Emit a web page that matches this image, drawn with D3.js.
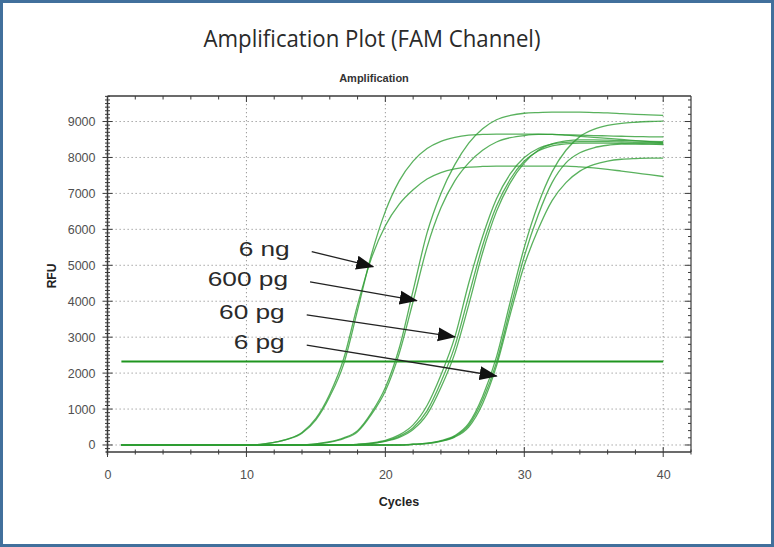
<!DOCTYPE html>
<html>
<head>
<meta charset="utf-8">
<script src="https://cdn.jsdelivr.net/npm/d3@7"></script>
<style>
  body { margin: 0; background: #fff; }
  svg { display: block; }
</style>
</head>
<body>
<div id="chart"></div>
<script>
// cycle numbers shared by every trace
const cycles = [1, 2, 3, 4, 5, 6, 7, 8, 9, 10, 11, 12, 13, 14, 15, 16, 17, 18, 19, 20,
  21, 22, 23, 24, 25, 26, 27, 28, 29, 30, 31, 32, 33, 34, 35, 36, 37, 38, 39, 40];

// RFU, one array per well
const ng6A = [0, 0, 0, 0, 0, 0, 0, 0, 0, 0, 20, 70, 160, 330, 700, 1350, 2250, 3750, 5300, 6500,
  7350, 7900, 8250, 8450, 8560, 8620, 8640, 8650, 8650, 8650, 8650, 8640, 8630, 8620, 8610, 8600, 8590, 8580, 8575, 8570];
const ng6B = [0, 0, 0, 0, 0, 0, 0, 0, 0, 0, 20, 75, 170, 350, 740, 1420, 2400, 3900, 5200, 6100,
  6700, 7100, 7400, 7580, 7680, 7730, 7750, 7760, 7760, 7760, 7760, 7760, 7760, 7740, 7710, 7670, 7620, 7570, 7520, 7470];
const pg600C = [0, 0, 0, 0, 0, 0, 0, 0, 0, 0, 0, 0, 0, 0, 30, 90, 200, 400, 900, 1600,
  2700, 4300, 5900, 7000, 7800, 8400, 8800, 9050, 9170, 9230, 9250, 9260, 9260, 9260, 9250, 9240, 9220, 9200, 9185, 9170];
const pg600D = [0, 0, 0, 0, 0, 0, 0, 0, 0, 0, 0, 0, 0, 0, 30, 80, 180, 370, 850, 1500,
  2550, 4000, 5500, 6600, 7350, 7850, 8200, 8430, 8550, 8610, 8640, 8640, 8620, 8590, 8560, 8530, 8500, 8470, 8440, 8410];
const pg60H = [0, 0, 0, 0, 0, 0, 0, 0, 0, 0, 0, 0, 0, 0, 0, 0, 0, 20, 60, 130,
  280, 560, 1100, 1950, 3000, 4500, 5800, 6850, 7550, 8000, 8250, 8370, 8420, 8440, 8440, 8440, 8430, 8420, 8410, 8400];
const pg60I = [0, 0, 0, 0, 0, 0, 0, 0, 0, 0, 0, 0, 0, 0, 0, 0, 0, 15, 45, 110,
  240, 480, 950, 1750, 2750, 4150, 5550, 6650, 7400, 7900, 8180, 8320, 8380, 8400, 8400, 8400, 8390, 8380, 8370, 8360];
const pg60J = [0, 0, 0, 0, 0, 0, 0, 0, 0, 0, 0, 0, 0, 0, 0, 0, 0, 10, 40, 100,
  210, 430, 850, 1600, 2550, 3900, 5350, 6500, 7300, 7850, 8200, 8380, 8460, 8490, 8490, 8480, 8470, 8460, 8450, 8440];
const pg6E = [0, 0, 0, 0, 0, 0, 0, 0, 0, 0, 0, 0, 0, 0, 0, 0, 0, 0, 0, 0,
  0, 20, 50, 120, 260, 600, 1350, 2450, 4000, 5500, 6700, 7600, 8200, 8580, 8780, 8890, 8950, 8980, 9000, 9010];
const pg6G = [0, 0, 0, 0, 0, 0, 0, 0, 0, 0, 0, 0, 0, 0, 0, 0, 0, 0, 0, 0,
  0, 20, 45, 110, 240, 550, 1250, 2300, 3800, 5250, 6400, 7300, 7850, 8130, 8270, 8340, 8370, 8380, 8380, 8380];
const pg6F = [0, 0, 0, 0, 0, 0, 0, 0, 0, 0, 0, 0, 0, 0, 0, 0, 0, 0, 0, 0,
  0, 15, 40, 100, 220, 500, 1150, 2200, 3650, 5000, 6000, 6800, 7300, 7620, 7800, 7900, 7950, 7970, 7980, 7980];

const wells = [ng6A, ng6B, pg600C, pg600D, pg60H, pg60I, pg60J, pg6E, pg6G, pg6F];

const threshold = 2320;
const thresholdCycles = [1, 40];

const xTicks = [0, 10, 20, 30, 40];
const yTicks = [0, 1000, 2000, 3000, 4000, 5000, 6000, 7000, 8000, 9000];

// arrow callouts: label, tail and head in [cycle, RFU]
const calloutLabels = ["6 ng", "600 pg", "60 pg", "6 pg"];
const calloutFrom = [[14.7, 5380], [14.58, 4540], [14.34, 3620], [14.34, 2780]];
const calloutTo = [[19.13, 4960], [22.26, 4015], [25.01, 3010], [28.01, 1920]];

const width = 774, height = 547;
const box = { left: 107.5, right: 691, top: 96, bottom: 452 };
const sans = "'Liberation Sans', Arial, sans-serif";

const svg = d3.select("#chart").append("svg")
    .attr("width", width)
    .attr("height", height);

svg.append("rect")
    .attr("x", 1.5).attr("y", 1.5)
    .attr("width", width - 3).attr("height", height - 3)
    .attr("fill", "#fff")
    .attr("stroke", "#41709c")
    .attr("stroke-width", 3);

svg.append("text")
    .attr("x", 372).attr("y", 47)
    .attr("text-anchor", "middle")
    .attr("textLength", 337)
    .attr("lengthAdjust", "spacingAndGlyphs")
    .style("font-family", "'Open Sans', sans-serif")
    .style("font-size", "23px")
    .style("fill", "#2a2a2a")
    .text("Amplification Plot (FAM Channel)");

svg.append("text")
    .attr("x", 374).attr("y", 81.5)
    .attr("text-anchor", "middle")
    .style("font-family", sans)
    .style("font-weight", "bold")
    .style("font-size", "11px")
    .style("fill", "#333")
    .text("Amplification");

const x = d3.scaleLinear().domain([0, 42]).range([box.left, box.right]);
const y = d3.scaleLinear().domain([-195, 9710]).range([box.bottom, box.top]);

// dotted grid
const grid = svg.append("g")
    .attr("stroke", "#9a9a9a")
    .attr("stroke-width", 1)
    .attr("stroke-dasharray", "1.3,2.7");

grid.selectAll("line.h")
    .data(yTicks)
    .enter()
    .append("line")
    .attr("class", "h")
    .attr("x1", box.left).attr("x2", box.right)
    .attr("y1", d => y(d)).attr("y2", d => y(d));

grid.selectAll("line.v")
    .data(xTicks.filter(d => d > 0))
    .enter()
    .append("line")
    .attr("class", "v")
    .attr("x1", d => x(d)).attr("x2", d => x(d))
    .attr("y1", box.top).attr("y2", box.bottom);

// frame
const frame = svg.append("g").attr("stroke", "#3a3a3a").attr("fill", "none");
frame.append("line").attr("x1", box.left).attr("x2", box.right).attr("y1", box.top).attr("y2", box.top).attr("stroke-width", 1.6);
frame.append("line").attr("x1", box.right).attr("x2", box.right).attr("y1", box.top).attr("y2", box.bottom).attr("stroke-width", 1.2);
frame.append("line").attr("x1", box.left).attr("x2", box.left).attr("y1", box.top).attr("y2", box.bottom + 3).attr("stroke-width", 1.5);
frame.append("line").attr("x1", box.left - 2).attr("x2", box.right).attr("y1", box.bottom).attr("y2", box.bottom).attr("stroke-width", 1.5);

// ticks along the frame, crossing left/bottom, inward on top/right
const minorX = d3.range(0, 43, 2);
const minorY = d3.range(-100, 9701, 100);
const ticks = svg.append("g").attr("stroke", "#3a3a3a").attr("stroke-width", 1);

ticks.selectAll("line.bx")
    .data(minorX)
    .enter().append("line")
    .attr("x1", d => x(d)).attr("x2", d => x(d))
    .attr("y1", d => box.bottom - (d % 10 === 0 ? 5 : 2.5))
    .attr("y2", d => box.bottom + (d % 10 === 0 ? 5 : 2.5));

ticks.selectAll("line.tx")
    .data(minorX.filter(d => d > 0 && d < 42))
    .enter().append("line")
    .attr("x1", d => x(d)).attr("x2", d => x(d))
    .attr("y1", box.top)
    .attr("y2", d => box.top + (d % 10 === 0 ? 6 : 3.5));

ticks.selectAll("line.ly")
    .data(minorY)
    .enter().append("line")
    .attr("y1", d => y(d)).attr("y2", d => y(d))
    .attr("x1", d => box.left - (d % 1000 === 0 ? 5 : 2.5))
    .attr("x2", d => box.left + (d % 1000 === 0 ? 5 : 2.5));

ticks.selectAll("line.ry")
    .data(minorY.filter(d => d % 200 === 0))
    .enter().append("line")
    .attr("y1", d => y(d)).attr("y2", d => y(d))
    .attr("x1", d => box.right - (d % 1000 === 0 ? 6 : 3))
    .attr("x2", box.right);

// tick labels through d3 axes
const yAxis = svg.append("g")
    .attr("transform", `translate(${box.left},0)`)
    .call(d3.axisLeft(y).tickValues(yTicks).tickSize(0).tickPadding(12).tickFormat(d3.format("d")));
const xAxis = svg.append("g")
    .attr("transform", `translate(0,${box.bottom})`)
    .call(d3.axisBottom(x).tickValues(xTicks).tickSize(0).tickPadding(18));

[yAxis, xAxis].forEach(a => {
  a.select(".domain").remove();
  a.selectAll("text")
      .style("font-family", sans)
      .style("font-size", "12.5px")
      .style("fill", "#505050");
});

svg.append("text")
    .attr("x", 399).attr("y", 506)
    .attr("text-anchor", "middle")
    .style("font-family", sans)
    .style("font-weight", "bold")
    .style("font-size", "12.5px")
    .style("fill", "#222")
    .text("Cycles");

svg.append("text")
    .attr("transform", "translate(56,276) rotate(-90)")
    .attr("text-anchor", "middle")
    .style("font-family", sans)
    .style("font-weight", "bold")
    .style("font-size", "12px")
    .style("fill", "#222")
    .text("RFU");

// threshold
svg.append("line")
    .attr("x1", x(thresholdCycles[0])).attr("x2", x(thresholdCycles[1]))
    .attr("y1", y(threshold)).attr("y2", y(threshold))
    .attr("stroke", "#1f951f")
    .attr("stroke-width", 2);

// amplification traces
const line = d3.line()
    .x((d, i) => x(cycles[i]))
    .y(d => y(d))
    .curve(d3.curveMonotoneX);

svg.append("g")
    .selectAll("path")
    .data(wells)
    .enter()
    .append("path")
    .attr("d", line)
    .attr("fill", "none")
    .attr("stroke", "#2f9e35")
    .attr("stroke-opacity", 0.8)
    .attr("stroke-width", 1.3);

// callouts
svg.append("defs").append("marker")
    .attr("id", "head")
    .attr("markerUnits", "userSpaceOnUse")
    .attr("viewBox", "0 -8 18 16")
    .attr("refX", 17).attr("refY", 0)
    .attr("markerWidth", 18).attr("markerHeight", 16)
    .attr("orient", "auto")
    .append("path")
    .attr("d", "M0,-7L18,0L0,7Z")
    .attr("fill", "#111");

const callouts = svg.append("g");
calloutLabels.forEach((label, i) => {
  const x0 = x(calloutFrom[i][0]), y0 = y(calloutFrom[i][1]);
  callouts.append("line")
      .attr("x1", x0).attr("y1", y0)
      .attr("x2", x(calloutTo[i][0])).attr("y2", y(calloutTo[i][1]))
      .attr("stroke", "#222")
      .attr("stroke-width", 1.3)
      .attr("marker-end", "url(#head)");
  callouts.append("g")
      .attr("transform", `translate(${x0 - 22},${y0 + 4}) scale(1.25,1)`)
      .append("text")
      .attr("text-anchor", "end")
      .style("font-family", sans)
      .style("font-size", "21px")
      .style("fill", "#2a2a2a")
      .text(label);
});
</script>
</body>
</html>
